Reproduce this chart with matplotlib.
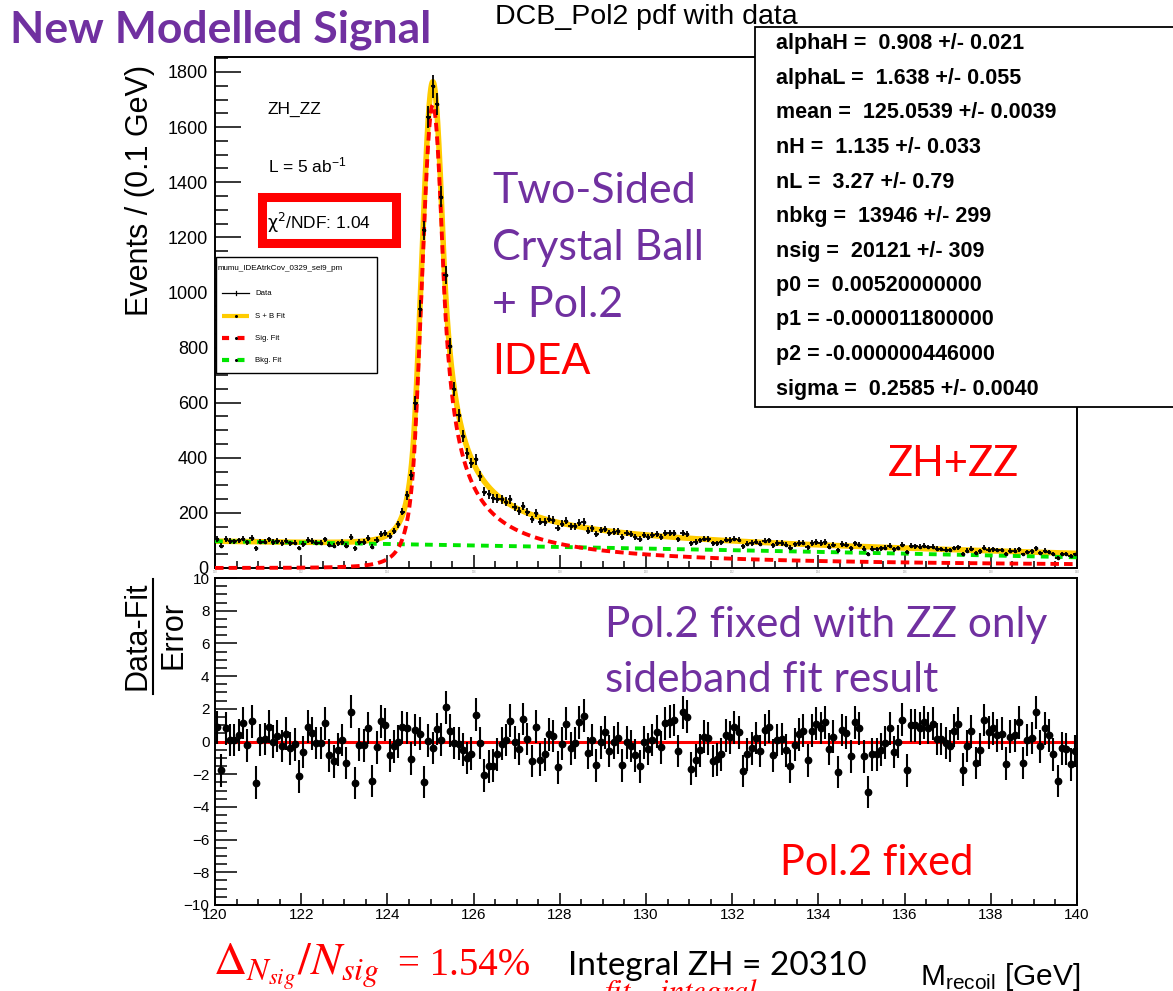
import numpy as np
import matplotlib
matplotlib.use('Agg')
import matplotlib.pyplot as plt
from matplotlib.patches import Rectangle
from matplotlib.lines import Line2D
from matplotlib.ticker import MultipleLocator

# ---------------- values ----------------
# fit parameters (stat box)
alphaH, alphaL, mean, nH, nL = 0.908, 1.638, 125.0539, 1.135, 3.27
nbkg, nsig = 13946, 20121
p0, p1, p2 = 0.0052, -0.0000118, -0.000000446
sigma = 0.2585
x_lo, x_hi, n_bins = 120.0, 140.0, 200

# events per 0.1 GeV bin (120.0 ... 140.0)
data = [106, 80, 105, 98, 97, 100, 107, 93, 108, 71,
        96, 96, 104, 95, 98, 91, 99, 90, 92, 73,
        87, 102, 98, 92, 92, 104, 85, 81, 89, 95,
        81, 112, 71, 94, 95, 108, 77, 101, 122, 126,
        115, 134, 159, 205, 264, 339, 598, 941, 1226, 1637,
        1748, 1684, 1348, 1063, 805, 648, 554, 478, 416, 381,
        395, 334, 277, 268, 253, 251, 249, 241, 249, 220,
        206, 226, 202, 177, 200, 168, 167, 179, 174, 145,
        160, 172, 151, 151, 164, 167, 136, 144, 123, 137,
        142, 127, 132, 133, 112, 126, 122, 114, 105, 120,
        114, 119, 123, 112, 126, 126, 126, 104, 128, 124,
        90, 94, 100, 107, 105, 90, 90, 93, 103, 101,
        107, 103, 79, 88, 91, 96, 88, 99, 100, 83,
        91, 91, 84, 74, 86, 91, 92, 75, 91, 94,
        91, 94, 78, 84, 64, 87, 85, 71, 89, 85,
        70, 50, 70, 69, 71, 74, 81, 68, 73, 84,
        57, 80, 79, 77, 80, 76, 78, 70, 69, 67,
        65, 72, 75, 52, 63, 70, 53, 60, 74, 67,
        68, 65, 65, 50, 63, 63, 68, 49, 59, 60,
        71, 55, 63, 59, 50, 37, 52, 51, 43, 49]

# (Data - Fit) / Error per bin
pulls = [0.87, -1.77, 0.81, 0.1, 0.1, 0.4, 1.14, -0.24, 1.24, -2.52,
         0.1, 0.16, 0.91, 0.0, 0.33, -0.28, 0.47, -0.41, -0.18, -2.13,
         -0.65, 0.91, 0.51, -0.1, -0.1, 1.12, -0.85, -1.22, -0.51, 0.1,
         -1.32, 1.83, -2.54, -0.2, -0.24, 0.83, -2.42, -0.35, 1.24, 1.02,
         -0.85, -0.3, 0.0, 0.87, 0.83, -1.06, 0.71, 0.47, -2.48, 0.06,
         -0.39, 0.77, 0.12, 2.09, 0.67, -0.1, -0.14, -0.51, -1.0, -0.75,
         1.65, -0.1, -2.07, -1.52, -1.48, -0.79, -0.14, 0.1, 1.28, -0.04,
         -0.45, 1.38, 0.16, -1.2, 0.91, -1.12, -0.79, 0.43, 0.33, -1.57,
         -0.14, 1.08, -0.41, -0.1, 1.18, 1.59, -0.71, 0.1, -1.46, -0.04,
         0.57, -0.59, -0.04, 0.22, -1.46, -0.04, -0.28, -0.85, -1.52, -0.04,
         -0.45, 0.1, 0.61, -0.35, 1.12, 1.22, 1.32, -0.59, 1.79, 1.52,
         -1.67, -1.16, -0.55, 0.3, 0.2, -1.2, -1.1, -0.79, 0.37, 0.26,
         0.87, 0.57, -1.81, -0.79, -0.41, 0.22, -0.59, 0.71, 0.91, -0.85,
         0.1, 0.16, -0.55, -1.52, -0.2, 0.43, 0.67, -1.16, 0.67, 1.08,
         0.83, 1.18, -0.45, 0.3, -1.87, 0.71, 0.53, -0.91, 1.18, 0.81,
         -0.91, -3.09, -0.79, -0.79, -0.51, -0.08, 0.81, -0.65, 0.0, 1.34,
         -1.77, 0.98, 0.98, 0.81, 1.18, 0.83, 1.08, 0.16, 0.16, -0.1,
         -0.28, 0.67, 1.08, -1.73, -0.28, 0.63, -1.32, -0.49, 1.32, 0.57,
         0.81, 0.37, 0.47, -1.36, 0.3, 0.37, 1.18, -1.32, 0.1, 0.22,
         1.79, -0.3, 0.81, 0.37, -0.79, -2.42, -0.41, -0.45, -1.4, -0.59]

stat_lines = ["alphaH =  0.908 +/- 0.021",
              "alphaL =  1.638 +/- 0.055",
              "mean =  125.0539 +/- 0.0039",
              "nH =  1.135 +/- 0.033",
              "nL =  3.27 +/- 0.79",
              "nbkg =  13946 +/- 299",
              "nsig =  20121 +/- 309",
              "p0 =  0.00520000000",
              "p1 = -0.000011800000",
              "p2 = -0.000000446000",
              "sigma =  0.2585 +/- 0.0040"]

legend_entries = ['Data', 'S + B Fit', 'Sig. Fit', 'Bkg. Fit']

# ---------------- fit model curves (DCB + pol2, parameters above) ----------------
def dcb(x):
    t = (x - mean) / sigma
    out = np.exp(-0.5 * t * t)
    hi = t > alphaH
    lo = t < -alphaL
    out[hi] = np.exp(-0.5 * alphaH**2) * ((nH / alphaH) / (nH / alphaH - alphaH + t[hi]))**nH
    out[lo] = np.exp(-0.5 * alphaL**2) * ((nL / alphaL) / (nL / alphaL - alphaL - t[lo]))**nL
    return out

def pol(x):
    return 1 + p0 * x + p1 * x**2 + p2 * x**3

binw = (x_hi - x_lo) / n_bins
xf = np.linspace(x_lo, x_hi, 8001)
Is = np.trapezoid(dcb(xf), xf)
Ib = np.trapezoid(pol(xf), xf)
sig_curve = nsig * binw * dcb(xf) / Is
bkg_curve = nbkg * binw * pol(xf) / Ib
tot_curve = sig_curve + bkg_curve

centers = x_lo + binw * (np.arange(n_bins) + 0.5)
data = np.array(data, dtype=float)
pulls = np.array(pulls)

# ---------------- figure ----------------
W, H = 1173, 991
plt.rcParams['font.family'] = ['Liberation Sans', 'DejaVu Sans']
plt.rcParams['mathtext.fontset'] = 'custom'
plt.rcParams['mathtext.rm'] = 'Liberation Sans'
plt.rcParams['mathtext.it'] = 'Liberation Sans:italic'
plt.rcParams['mathtext.bf'] = 'Liberation Sans:bold'
fig = plt.figure(figsize=(W / 100, H / 100), dpi=100)

def FX(px): return px / W
def FY(py): return 1 - py / H

PURPLE = '#7030A0'
RED = '#FF0000'
YEL = '#FFCC00'
GRN = '#00E600'

# top panel
ax1 = fig.add_axes([FX(215), FY(568), (1077 - 215) / W, (568 - 57) / H])
ax1.set_xlim(x_lo, x_hi)
ax1.set_ylim(0, 1854.4)
ax1.plot(xf, tot_curve, color=YEL, lw=4.0, zorder=2, solid_capstyle='butt')
ax1.plot(xf, bkg_curve, color=GRN, lw=2.8, ls=(0, (2.0, 1.6)), zorder=3)
ax1.plot(xf, sig_curve, color=RED, lw=2.8, ls=(0, (2.2, 1.3)), zorder=3, clip_on=False)
ax1.errorbar(centers, data, xerr=binw / 2, yerr=np.sqrt(data), fmt='none',
             ecolor='black', elinewidth=1.3, zorder=4)
ax1.plot(centers, data, ls='none', marker='o', ms=1.6, color='black', zorder=4)

ax1.xaxis.set_major_locator(MultipleLocator(2))
ax1.xaxis.set_minor_locator(MultipleLocator(0.5))
ax1.yaxis.set_major_locator(MultipleLocator(200))
ax1.yaxis.set_minor_locator(MultipleLocator(50))
ax1.tick_params(which='both', direction='in', top=False, right=False, width=1.1)
ax1.tick_params(axis='y', which='major', length=19, labelsize=13, pad=5)
ax1.tick_params(axis='y', which='minor', length=9.5)
ax1.tick_params(axis='x', which='major', length=9.5, labelsize=2, labelcolor='#999999', pad=1.5)
ax1.tick_params(axis='x', which='minor', length=5)
for s in ax1.spines.values():
    s.set_linewidth(1.4)

# bottom panel
ax2 = fig.add_axes([FX(215), FY(905), (1077 - 215) / W, (905 - 578) / H])
ax2.set_xlim(x_lo, x_hi)
ax2.set_ylim(-10, 10)
ax2.plot([x_lo, x_hi], [0, 0], color=RED, lw=2.2, zorder=2)
ax2.errorbar(centers, pulls, yerr=1.0, fmt='o', ms=4.6, color='black',
             elinewidth=1.5, capsize=0, zorder=3)
ax2.xaxis.set_major_locator(MultipleLocator(2))
ax2.xaxis.set_minor_locator(MultipleLocator(0.5))
ax2.yaxis.set_major_locator(MultipleLocator(2))
ax2.yaxis.set_minor_locator(MultipleLocator(0.5))
ax2.tick_params(which='both', direction='in', top=False, right=False, width=1.1)
ax2.tick_params(axis='y', which='major', length=16, labelsize=11, pad=4)
ax2.tick_params(axis='y', which='minor', length=8.5)
ax2.tick_params(axis='x', which='major', length=8.5, labelsize=11, pad=2)
ax2.tick_params(axis='x', which='minor', length=4.3)
for s in ax2.spines.values():
    s.set_linewidth(1.4)

# axis titles
fig.text(FX(140), FY(190), 'Events / (0.1 GeV)', rotation=90, ha='center', va='center', fontsize=22)
fig.text(FX(137), FY(636), 'Data-Fit', rotation=90, ha='center', va='center', fontsize=22)
fig.add_artist(Line2D([FX(153), FX(153)], [FY(579), FY(694)], color='black', lw=1.5))
fig.text(FX(173), FY(635), 'Error', rotation=90, ha='center', va='center', fontsize=22)
fig.text(FX(1080), FY(985), r'M$_{\mathrm{recoil}}$ [GeV]', ha='right', va='baseline', fontsize=21.5)

# title
fig.text(FX(495), FY(24), 'DCB_Pol2 pdf with data', ha='left', va='baseline', fontsize=20.5)

# stat box
fig.add_artist(Rectangle((FX(755), FY(407)), FX(1190) - FX(755), (407 - 27) / H,
                         facecolor='white', edgecolor='black', lw=1.3, zorder=10,
                         transform=fig.transFigure))
for i, s in enumerate(stat_lines):
    fig.text(FX(776), FY(44 + i * 34.5), s, ha='left', va='center', fontsize=15.5,
             fontweight='bold', zorder=11)

# inner labels
fig.text(FX(268), FY(114), 'ZH_ZZ', ha='left', va='baseline', fontsize=12.5)
fig.text(FX(268), FY(172), r'L = 5 ab$^{\mathrm{-1}}$', ha='left', va='baseline', fontsize=12.5)
fig.add_artist(Rectangle((FX(261.5), FY(242.5)), (395.5 - 261.5) / W, (242.5 - 197.5) / H,
                         facecolor='white', edgecolor=RED, lw=6.5, zorder=5,
                         transform=fig.transFigure))
fig.text(FX(267), FY(229), r'$\mathrm{\chi^{2}}$/NDF: 1.04', ha='left', va='baseline',
         fontsize=12.5, zorder=6, math_fontfamily='dejavusans')

# legend
fig.add_artist(Rectangle((FX(216), FY(373)), (377 - 216) / W, (373 - 257) / H,
                         facecolor='white', edgecolor='black', lw=1.0, zorder=5,
                         transform=fig.transFigure))
fig.text(FX(218), FY(268), 'mumu_IDEAtrkCov_0329_sel9_pm', ha='left', va='center', fontsize=5.8, zorder=6)
leg_y = [293, 316, 338, 360]
for name, yy in zip(legend_entries, leg_y):
    fig.text(FX(255), FY(yy), name, ha='left', va='center', fontsize=5.6, zorder=6)
fig.add_artist(Line2D([FX(222), FX(249)], [FY(293)] * 2, color='black', lw=0.9, zorder=6))
fig.add_artist(Line2D([FX(235.5)] * 2, [FY(291), FY(295)], color='black', lw=0.9, zorder=6))
fig.add_artist(Line2D([FX(222), FX(249)], [FY(316)] * 2, color=YEL, lw=3.0, zorder=6, solid_capstyle='butt'))
fig.add_artist(Line2D([FX(222), FX(249)], [FY(338)] * 2, color=RED, lw=3.0, ls=(0, (1.7, 2.0)), zorder=6))
fig.add_artist(Line2D([FX(222), FX(249)], [FY(360)] * 2, color=GRN, lw=3.0, ls=(0, (1.7, 2.0)), zorder=6))
for yy in leg_y[1:]:
    fig.add_artist(Line2D([FX(235.5)], [FY(yy)], marker='o', ms=1.2, color='black', zorder=7))

# slide annotations
fig.text(FX(10), FY(42), 'New Modelled Signal', ha='left', va='baseline', fontsize=32,
         fontweight='bold', color=PURPLE, family='Lato')
for i, s in enumerate(['Two-Sided', 'Crystal Ball', '+ Pol.2']):
    fig.text(FX(492), FY(203 + i * 57), s, ha='left', va='baseline', fontsize=31,
             color=PURPLE, family='Lato')
fig.text(FX(492), FY(374), 'IDEA', ha='left', va='baseline', fontsize=31, color=RED, family='Lato')
fig.text(FX(888), FY(476), 'ZH+ZZ', ha='left', va='baseline', fontsize=30, color=RED, family='Lato')
fig.text(FX(605), FY(637), 'Pol.2 fixed with ZZ only', ha='left', va='baseline', fontsize=30.5,
         color=PURPLE, family='Lato', zorder=12)
fig.text(FX(605), FY(692), 'sideband fit result', ha='left', va='baseline', fontsize=30.5,
         color=PURPLE, family='Lato', zorder=12)
fig.text(FX(780), FY(875), 'Pol.2 fixed', ha='left', va='baseline', fontsize=30,
         color=RED, family='Lato', zorder=12)
fig.text(FX(213), FY(975), r'$\Delta_{N_{sig}}/N_{sig}$', ha='left', va='baseline',
         fontsize=33, color=RED, math_fontfamily='stix')
fig.text(FX(398), FY(975), '= 1.54%', ha='left', va='baseline',
         fontsize=28, color=RED, family='Liberation Serif')
fig.text(FX(568), FY(975), 'Integral ZH = 20310', ha='left', va='baseline', fontsize=24,
         color='black', family='Lato')
fig.text(FX(600), FY(1001), r'$fit-integral$', ha='left', va='baseline', fontsize=22,
         color=RED, math_fontfamily='stix')

fig.savefig('out.png', dpi=100)
